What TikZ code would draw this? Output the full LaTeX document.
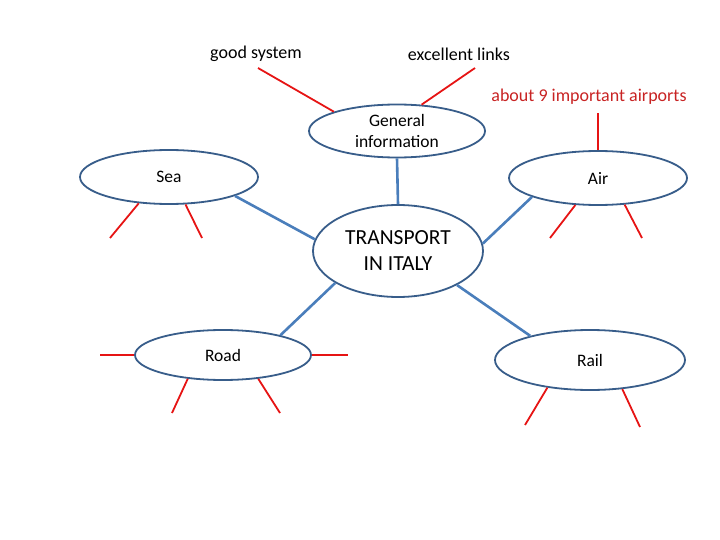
\documentclass[tikz,border=0pt]{standalone}
\usepackage{fontspec}
\setmainfont{Carlito}
\definecolor{rimblue}{RGB}{56,93,138}
\definecolor{linkblue}{RGB}{74,126,187}
\definecolor{twigred}{RGB}{230,20,20}
\definecolor{notered}{RGB}{200,35,35}
\usetikzlibrary{shapes.geometric}

\begin{document}
\begin{tikzpicture}[x=1pt, y=-1pt,
    bubble/.style={ellipse, draw=rimblue, line width=1.8pt, fill=white,
      inner sep=0pt, align=center, font=\fontsize{17.5}{21}\selectfont},
    link/.style={draw=linkblue, line width=2.6pt},
    twig/.style={draw=twigred, line width=1.8pt},
    note/.style={inner sep=1pt, font=\fontsize{18}{21}\selectfont}]
  %% Frame
  \useasboundingbox (0,0) rectangle (720,540);

  %% Bubbles
  \node[bubble, minimum width=170pt, minimum height=92pt,
    font=\fontsize{21.5}{26}\selectfont] (core) at (398,251) {TRANSPORT\\IN ITALY};
  \node[bubble, minimum width=176pt, minimum height=53pt, inner ysep=-5pt] (gen)
    at (397,131) {General\\information};
  \node[bubble, minimum width=178pt, minimum height=54pt] (sea) at (169,177) {Sea};
  \node[bubble, minimum width=178pt, minimum height=54pt] (air) at (598,178) {Air};
  \node[bubble, minimum width=176pt, minimum height=50pt] (road) at (223,355) {Road};
  \node[bubble, minimum width=190pt, minimum height=60pt] (rail) at (590,360) {Rail};

  %% Links to the centre
  \draw[link] (gen.south) -- (core.north);
  \draw[link] (sea.344) -- (core.172);
  \draw[link] (air.196) -- (core.5);
  \draw[link] (road.19) -- (core.207);
  \draw[link] (rail.158) -- (core.330);

  %% Notes above
  \node[note] (goodsys) at (256,54) {good system};
  \node[note] (links) at (459,54) {excellent links};
  \node[note, text=notered] (airports) at (589,97) {about 9 important airports};

  %% Loose ends
  \coordinate (g1) at (258,68);
  \coordinate (g2) at (475,68);
  \coordinate (a0) at (598,113);
  \coordinate (s1) at (110,238);
  \coordinate (s2) at (202,238);
  \coordinate (a1) at (550,238);
  \coordinate (a2) at (642,238);
  \coordinate (r1) at (100,355);
  \coordinate (r2) at (348,355);
  \coordinate (r3) at (172,413);
  \coordinate (r4) at (280,413);
  \coordinate (l1) at (525,425);
  \coordinate (l2) at (640,427);

  %% Red branches
  \draw[twig] (gen.163) -- (g1);
  \draw[twig] (gen.47) -- (g2);
  \draw[twig] (air.north) -- (a0);
  \draw[twig] (sea.221) -- (s1);
  \draw[twig] (sea.301) -- (s2);
  \draw[twig] (air.230) -- (a1);
  \draw[twig] (air.315) -- (a2);
  \draw[twig] (road.west) -- (r1);
  \draw[twig] (road.east) -- (r2);
  \draw[twig] (road.214) -- (r3);
  \draw[twig] (road.326) -- (r4);
  \draw[twig] (rail.213) -- (l1);
  \draw[twig] (rail.318) -- (l2);

\end{tikzpicture}
\end{document}
